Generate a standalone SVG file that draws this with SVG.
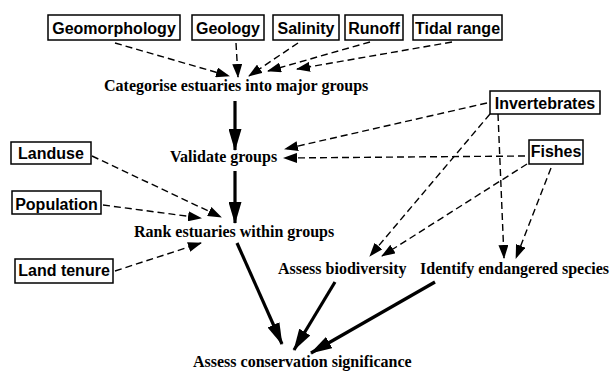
<svg xmlns="http://www.w3.org/2000/svg" width="613" height="372" viewBox="0 0 613 372">
<style>
.box rect{fill:#fff;stroke:#000;stroke-width:1.5}
.box text{font-family:"Liberation Sans",Arial,sans-serif;font-weight:bold;font-size:16px;text-anchor:middle;fill:#000}
.lbl text{font-family:"Liberation Serif","Times New Roman",serif;font-weight:bold;font-size:16px;fill:#000}
.dash{stroke:#000;stroke-width:1.4;stroke-dasharray:7 4;fill:none;marker-end:url(#ah)}
.thick{stroke:#000;stroke-width:3.2;fill:none;marker-end:url(#ahT)}
</style>
<defs>
<marker id="ah" markerUnits="userSpaceOnUse" markerWidth="14" markerHeight="10" refX="13" refY="5" orient="auto">
<path d="M0,0 L14,5 L0,10 z" fill="#000"/>
</marker>
<marker id="ahT" markerUnits="userSpaceOnUse" markerWidth="22" markerHeight="13" refX="21" refY="6.5" orient="auto">
<path d="M0,0 L22,6.5 L0,13 z" fill="#000"/>
</marker>
</defs>
<rect width="613" height="372" fill="#fff"/>
<g id="connectors">
<line class="dash" x1="115" y1="43" x2="229" y2="76"/>
<line class="dash" x1="236" y1="43" x2="238" y2="77"/>
<line class="dash" x1="298" y1="43" x2="249" y2="76"/>
<line class="dash" x1="370" y1="42" x2="268" y2="71"/>
<line class="dash" x1="452" y1="42" x2="297" y2="69"/>
<line class="dash" x1="487" y1="103" x2="285" y2="149"/>
<line class="dash" x1="525" y1="156" x2="284" y2="158"/>
<line class="dash" x1="92" y1="156" x2="221" y2="217"/>
<line class="dash" x1="103" y1="205" x2="201" y2="218"/>
<line class="dash" x1="115" y1="271" x2="201" y2="243"/>
<line class="dash" x1="490" y1="114" x2="370" y2="256"/>
<line class="dash" x1="527" y1="164" x2="382" y2="256"/>
<line class="dash" x1="498" y1="114" x2="504" y2="258"/>
<line class="dash" x1="551" y1="168" x2="516" y2="258"/>
<line class="thick" x1="235" y1="101" x2="235" y2="150"/>
<line class="thick" x1="235" y1="171" x2="235" y2="223"/>
<line class="thick" x1="237" y1="243" x2="282" y2="344"/>
<line class="thick" x1="335" y1="282" x2="294" y2="350"/>
<line class="thick" x1="435" y1="282" x2="311" y2="353"/>
</g>
<g id="geomorphology" class="box"><rect x="48" y="15" width="132" height="25"/><text x="114" y="34">Geomorphology</text></g>
<g id="geology" class="box"><rect x="192" y="15" width="72" height="25"/><text x="228" y="34">Geology</text></g>
<g id="salinity" class="box"><rect x="273" y="15" width="66" height="25"/><text x="306" y="34">Salinity</text></g>
<g id="runoff" class="box"><rect x="345" y="15" width="58" height="25"/><text x="374" y="34">Runoff</text></g>
<g id="tidal-range" class="box"><rect x="413" y="15" width="89" height="25"/><text x="457.5" y="34">Tidal range</text></g>
<g id="invertebrates" class="box"><rect x="490" y="91" width="110" height="23"/><text x="545" y="109">Invertebrates</text></g>
<g id="fishes" class="box"><rect x="529" y="140" width="54" height="24"/><text x="556" y="157">Fishes</text></g>
<g id="landuse" class="box"><rect x="11" y="142" width="80" height="22"/><text x="51" y="159">Landuse</text></g>
<g id="population" class="box"><rect x="12" y="191" width="89" height="23"/><text x="56.5" y="210">Population</text></g>
<g id="land-tenure" class="box"><rect x="15" y="259" width="98" height="24"/><text x="64" y="276">Land tenure</text></g>
<g id="categorise" class="lbl"><text x="104" y="91">Categorise estuaries into major groups</text></g>
<g id="validate" class="lbl"><text x="170" y="162">Validate groups</text></g>
<g id="rank" class="lbl"><text x="134" y="237">Rank estuaries within groups</text></g>
<g id="biodiversity" class="lbl"><text x="278" y="274">Assess biodiversity</text></g>
<g id="endangered" class="lbl"><text x="420" y="274">Identify endangered species</text></g>
<g id="conservation" class="lbl"><text x="193" y="367">Assess conservation significance</text></g>
</svg>
